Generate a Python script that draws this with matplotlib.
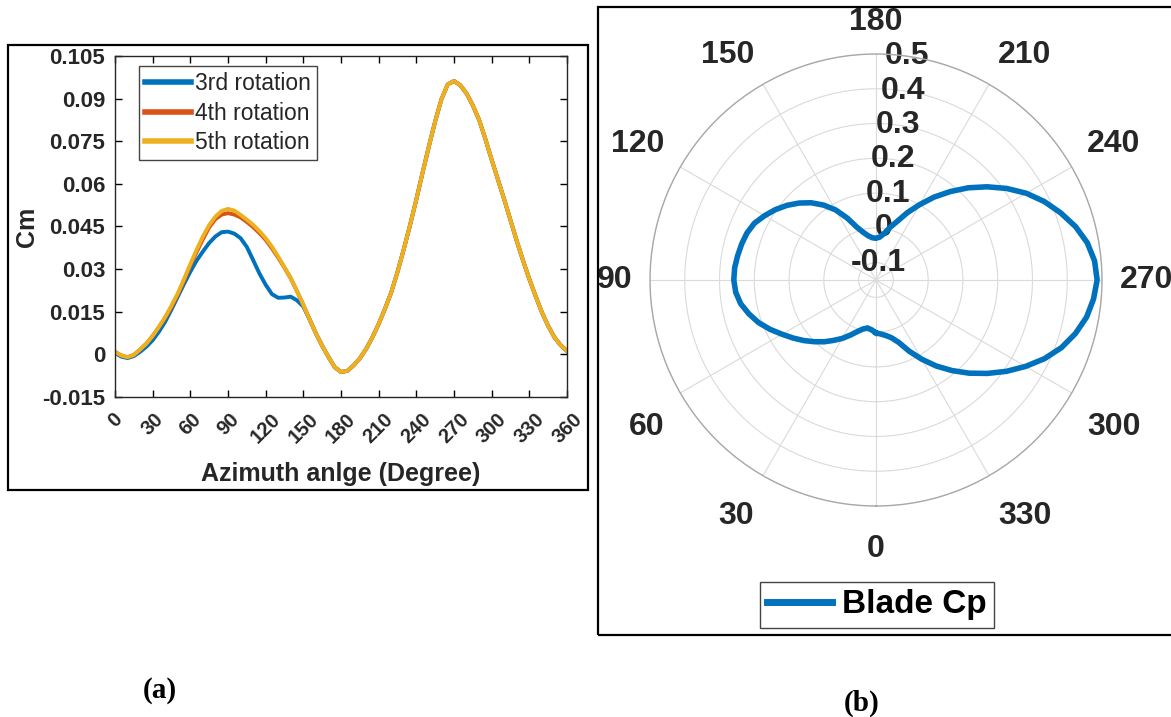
import numpy as np
import matplotlib.pyplot as plt
from matplotlib.patches import Rectangle

plt.rcParams['font.family'] = ['Liberation Sans', 'DejaVu Sans']

# Colours (MATLAB default order)
C_BLUE = '#0072BD'
C_ORANGE = '#D95319'
C_YELLOW = '#EDB120'

# ---- (a) Cm vs azimuth angle ----
azimuth = [0, 5, 10, 15, 20, 25, 30, 35, 40, 45, 50, 55, 60, 65, 70, 75, 80, 85, 90,
           95, 100, 105, 110, 115, 120, 125, 130, 135, 140, 145, 150, 155, 160, 165,
           170, 175, 180, 185, 190, 195, 200, 205, 210, 215, 220, 225, 230, 235, 240,
           245, 250, 255, 260, 265, 270, 275, 280, 285, 290, 295, 300, 305, 310, 315,
           320, 325, 330, 335, 340, 345, 350, 355, 360]

cm_5th = [0.0009, -0.0004, -0.0010, -0.0002, 0.0017, 0.0038, 0.0065, 0.0097, 0.0132,
          0.0172, 0.0215, 0.0265, 0.0318, 0.0368, 0.0415, 0.0455, 0.0485, 0.0505, 0.0512,
          0.0506, 0.0491, 0.0474, 0.0456, 0.0434, 0.0409, 0.0379, 0.0344, 0.0307, 0.0268,
          0.0222, 0.0174, 0.0123, 0.0074, 0.0030, -0.0009, -0.0045, -0.0062, -0.0058,
          -0.0039, -0.0014, 0.0019, 0.0060, 0.0107, 0.0160, 0.0218, 0.0290, 0.0370,
          0.0455, 0.0545, 0.0640, 0.0732, 0.0820, 0.0898, 0.0950, 0.0962, 0.0947, 0.0918,
          0.0876, 0.0825, 0.0758, 0.0685, 0.0615, 0.0545, 0.0472, 0.0399, 0.0330, 0.0265,
          0.0205, 0.0148, 0.0100, 0.0060, 0.0032, 0.0012]

cm_4th = [0.0009, -0.0004, -0.0010, -0.0002, 0.0017, 0.0038, 0.0065, 0.0096, 0.0128,
          0.0167, 0.0210, 0.0260, 0.0312, 0.0360, 0.0405, 0.0447, 0.0476, 0.0492, 0.0497,
          0.0492, 0.0482, 0.0466, 0.0448, 0.0427, 0.0403, 0.0373, 0.0340, 0.0305, 0.0267,
          0.0222, 0.0174, 0.0123, 0.0074, 0.0030, -0.0009, -0.0045, -0.0062, -0.0058,
          -0.0039, -0.0014, 0.0019, 0.0060, 0.0107, 0.0160, 0.0218, 0.0290, 0.0370,
          0.0455, 0.0545, 0.0640, 0.0732, 0.0820, 0.0898, 0.0950, 0.0962, 0.0947, 0.0918,
          0.0876, 0.0825, 0.0758, 0.0685, 0.0615, 0.0545, 0.0472, 0.0399, 0.0330, 0.0265,
          0.0205, 0.0148, 0.0100, 0.0060, 0.0032, 0.0012]

cm_3rd = [0.0005, -0.0008, -0.0013, -0.0006, 0.0009, 0.0027, 0.0050, 0.0080, 0.0115,
          0.0158, 0.0203, 0.0248, 0.0291, 0.0330, 0.0362, 0.0392, 0.0415, 0.0430, 0.0432,
          0.0425, 0.0409, 0.0378, 0.0332, 0.0285, 0.0245, 0.0212, 0.0199, 0.0200, 0.0203,
          0.0190, 0.0168, 0.0123, 0.0074, 0.0030, -0.0009, -0.0045, -0.0062, -0.0058,
          -0.0039, -0.0014, 0.0019, 0.0060, 0.0107, 0.0160, 0.0218, 0.0290, 0.0370,
          0.0455, 0.0545, 0.0640, 0.0732, 0.0820, 0.0898, 0.0950, 0.0962, 0.0947, 0.0918,
          0.0876, 0.0825, 0.0758, 0.0685, 0.0615, 0.0545, 0.0472, 0.0399, 0.0330, 0.0265,
          0.0205, 0.0148, 0.0100, 0.0060, 0.0032, 0.0012]

x_ticks = list(range(0, 361, 30))
y_ticks = [-0.015, 0, 0.015, 0.03, 0.045, 0.06, 0.075, 0.09, 0.105]
y_ticklabels = ['-0.015', '0', '0.015', '0.03', '0.045', '0.06', '0.075', '0.09', '0.105']

# ---- (b) blade Cp polar ----
theta_deg = list(range(0, 361, 5))
cp_blade = [0.002, -0.006, -0.010, -0.004, 0.008, 0.025, 0.044, 0.062, 0.082, 0.101,
            0.121, 0.141, 0.162, 0.186, 0.209, 0.228, 0.245, 0.255, 0.259, 0.258,
            0.254, 0.250, 0.245, 0.236, 0.220, 0.203, 0.184, 0.163, 0.140, 0.113,
            0.083, 0.047, 0.012, -0.008, -0.021, -0.028, -0.030, -0.026, -0.014, 0.007,
            0.030, 0.064, 0.100, 0.141, 0.182, 0.225, 0.267, 0.309, 0.349, 0.384,
            0.415, 0.444, 0.467, 0.481, 0.486, 0.478, 0.465, 0.444, 0.418, 0.385,
            0.347, 0.308, 0.268, 0.229, 0.190, 0.152, 0.113, 0.076, 0.041, 0.022,
            0.012, 0.006, 0.002]
theta_ticks = list(range(0, 360, 30))
r_ticks = [-0.1, 0, 0.1, 0.2, 0.3, 0.4, 0.5]
r_ticklabels = ['-0.1', '0', '0.1', '0.2', '0.3', '0.4', '0.5']

W, H = 1171, 717
fig = plt.figure(figsize=(W / 100, H / 100), dpi=100)
fig.patch.set_facecolor('white')

TXT = '#262626'

# panel frames
fig.add_artist(Rectangle((8 / W, 1 - 490 / H), 580 / W, 445 / H, transform=fig.transFigure,
                         fill=False, edgecolor='black', linewidth=1.6))
fig.add_artist(Rectangle((598 / W, 1 - 635 / H), 600 / W, 628 / H, transform=fig.transFigure,
                         fill=False, edgecolor='black', linewidth=1.6))

# ---- left axes ----
ax = fig.add_axes([115 / W, 1 - 397 / H, 452 / W, 341 / H])
ax.plot(azimuth, cm_3rd, color=C_BLUE, lw=2.8, label='3rd rotation')
ax.plot(azimuth, cm_4th, color=C_ORANGE, lw=2.8, label='4th rotation')
ax.plot(azimuth, cm_5th, color=C_YELLOW, lw=2.8, label='5th rotation')
ax.set_xlim(0, 360)
ax.set_ylim(-0.015, 0.105)
ax.set_xticks(x_ticks)
ax.set_xticklabels([str(t) for t in x_ticks], rotation=45, ha='center',
                   fontsize=14.5, fontweight='bold', color=TXT)
ax.set_yticks(y_ticks)
ax.set_yticklabels(y_ticklabels, fontsize=16, fontweight='bold', color=TXT)
ax.tick_params(direction='in', top=True, right=True, length=5, width=1)
ax.tick_params(axis='x', pad=9)
ax.tick_params(axis='y', pad=7)
for s in ax.spines.values():
    s.set_linewidth(1)
    s.set_color(TXT)
ax.set_xlabel('Azimuth anlge (Degree)', fontsize=18, fontweight='bold', color=TXT, labelpad=11)
ax.set_ylabel('Cm', fontsize=18, fontweight='bold', color=TXT, labelpad=2)
leg = ax.legend(loc='upper left', bbox_to_anchor=(24 / 452, 1 - 10 / 341), fontsize=16.5,
                handlelength=2.0, handletextpad=0.2, borderpad=0.25, labelspacing=0.3,
                fancybox=False, framealpha=1, borderaxespad=0)
leg.get_frame().set_edgecolor('#444444')
leg.get_frame().set_linewidth(1)
for t in leg.get_texts():
    t.set_color(TXT)
for h in leg.get_lines():
    h.set_linewidth(4)

# ---- polar axes ----
pax = fig.add_axes([650 / W, 1 - 506 / H, 452 / W, 452 / H], projection='polar')
pax.plot(np.deg2rad(theta_deg), cp_blade, color=C_BLUE, lw=4, label='Blade Cp')
pax.set_theta_zero_location('S')
pax.set_theta_direction(-1)
pax.set_rlim(-0.15, 0.5)
pax.set_thetagrids(theta_ticks, [''] * len(theta_ticks))
pax.set_rgrids(r_ticks, r_ticklabels, angle=188, fontsize=23, fontweight='bold', color=TXT)
for lab in pax.get_yticklabels():
    lab.set_ha('center')
    lab.set_va('center')
pax.grid(color='#dadada', linewidth=0.8)
pax.spines['polar'].set_color('#a8a8a8')
pax.spines['polar'].set_linewidth(1)

# angle labels: text box edge kept a fixed gap outside the outer circle
lab_r = 0.5 * 244 / 226
for a in theta_ticks:
    dx = -np.sin(np.deg2rad(a))
    dy = -np.cos(np.deg2rad(a))
    ha = 'left' if dx > 0.3 else ('right' if dx < -0.3 else 'center')
    va = 'baseline' if dy > 0.3 else ('top' if dy < -0.3 else 'center')
    shift = 6 / 452 if dy > 0.3 else (-10 / 452 if dy < -0.3 else 0)
    pax.text(0.5 + lab_r * dx, 0.5 + lab_r * dy + shift, str(a), transform=pax.transAxes,
             ha=ha, va=va, fontsize=23, fontweight='bold', color=TXT, clip_on=False)

pleg = pax.legend(loc='center', bbox_to_anchor=(877 / W, 1 - 605 / H),
                  bbox_transform=fig.transFigure, prop={'size': 24, 'weight': 'bold'},
                  handlelength=1.95, handletextpad=0.3, borderpad=0.22,
                  fancybox=False, framealpha=1)
pleg.get_frame().set_edgecolor('#444444')
pleg.get_frame().set_linewidth(1)
for h in pleg.get_lines():
    h.set_linewidth(5)

# sub-figure captions
fig.text(160 / W, 1 - 691 / H, '(a)', fontsize=21, fontweight='bold',
         family='Liberation Serif', ha='center', va='center')
fig.text(862 / W, 1 - 703 / H, '(b)', fontsize=21, fontweight='bold',
         family='Liberation Serif', ha='center', va='center')

fig.savefig('out.png', dpi=100)
